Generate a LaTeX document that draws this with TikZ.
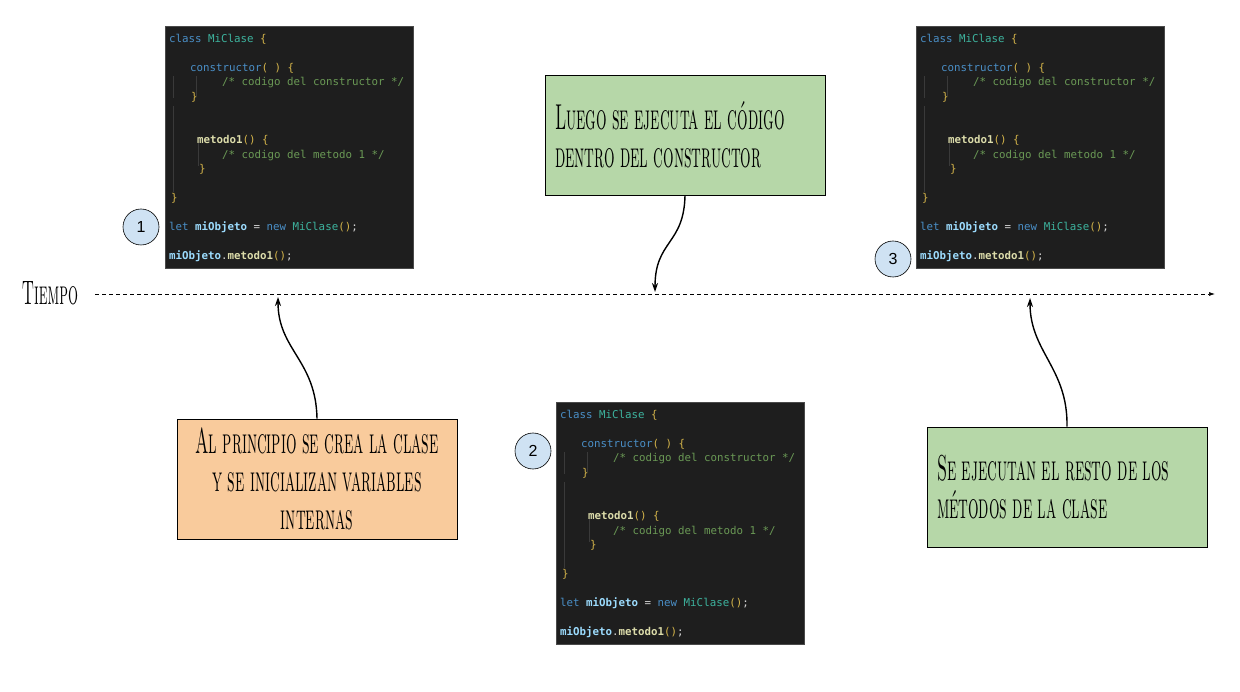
\documentclass[tikz,border=0pt]{standalone}
\usepackage{fontspec}
\newfontfamily\codefont{DejaVu Sans Mono}
\newfontfamily\numfont{Liberation Sans}
\usetikzlibrary{arrows.meta,positioning}

\definecolor{orangebox}{HTML}{F9CB9C}
\definecolor{greenbox}{HTML}{B6D7A8}
\definecolor{dotblue}{HTML}{CFE2F3}
\definecolor{codebg}{HTML}{1E1E1E}
\definecolor{codeedge}{HTML}{4A4A4A}
\definecolor{guide}{HTML}{3A3A3A}
\definecolor{kw}{HTML}{4A8FC7}
\definecolor{cls}{HTML}{3DB39E}
\definecolor{cm}{HTML}{6A9955}
\definecolor{br}{HTML}{D4B44A}
\definecolor{fn}{HTML}{DCDCAA}
\definecolor{var}{HTML}{9CDCFE}
\definecolor{plain}{HTML}{D4D4D4}

\newcommand{\hand}[1]{\scalebox{0.46}[1]{\scshape #1}}
\newcommand{\codetext}{%
\textcolor{kw}{class} \textcolor{cls}{MiClase} \textcolor{br}{\{}\\
\mbox{}\\
\hspace*{21pt}\textcolor{kw}{constructor}\textcolor{br}{( ) \{}\\
\hspace*{53pt}\textcolor{cm}{/* codigo del constructor */}\\
\hspace*{22pt}\textcolor{br}{\}}\\
\mbox{}\\
\mbox{}\\
\hspace*{28pt}\textcolor{fn}{\bfseries metodo1}\textcolor{br}{() \{}\\
\hspace*{53pt}\textcolor{cm}{/* codigo del metodo 1 */}\\
\hspace*{30pt}\textcolor{br}{\}}\\
\mbox{}\\
\hspace*{2pt}\textcolor{br}{\}}\\
\mbox{}\\
\textcolor{kw}{let} \textcolor{var}{\bfseries miObjeto} \textcolor{plain}{=} \textcolor{kw}{new} \textcolor{cls}{MiClase}\textcolor{br}{()}\textcolor{plain}{;}\\
\mbox{}\\
\textcolor{var}{\bfseries miObjeto}\textcolor{plain}{.}\textcolor{fn}{\bfseries metodo1}\textcolor{br}{()}\textcolor{plain}{;}}

\begin{document}
\begin{tikzpicture}[x=1pt,y=-1pt,
    codepanel/.style={draw=codeedge, fill=codebg, minimum width=248pt, minimum height=242pt, inner sep=0pt, anchor=north west},
    codelines/.style={inner sep=0pt, anchor=north west, align=left, font=\codefont\fontsize{10.8}{14.5}\selectfont},
    notebox/.style={draw=black, line width=0.8pt, minimum width=280pt, minimum height=120pt, inner xsep=10pt, inner ysep=4pt, font=\fontsize{36}{38}\selectfont},
    numdot/.style={circle, draw=black, line width=0.6pt, fill=dotblue, minimum size=36pt, inner sep=0pt, font=\numfont\fontsize{16}{16}\selectfont},
    pointer/.style={line width=1.4pt, -{Stealth[length=9pt,width=6pt]}}]
    \useasboundingbox (0,0) rectangle (1240,692);

    % code screenshots
    \node[codepanel] (codeA) at (165,26) {};
    \node[codepanel] (codeB) at (556,402) {};
    \node[codepanel] (codeC) at (916,26) {};
    \foreach \p in {codeA,codeB,codeC} {
        \node[codelines] at ([shift={(4,8)}]\p.north west) {\codetext};
        \draw[guide, line width=0.8pt] ([shift={(8,50)}]\p.north west) -- ([shift={(8,72)}]\p.north west);
        \draw[guide, line width=0.8pt] ([shift={(31,50)}]\p.north west) -- ([shift={(31,70)}]\p.north west);
        \draw[guide, line width=0.8pt] ([shift={(8,80)}]\p.north west) -- ([shift={(8,166)}]\p.north west);
        \draw[guide, line width=0.8pt] ([shift={(33,117)}]\p.north west) -- ([shift={(33,140)}]\p.north west);
    }

    % step numbers
    \node[numdot] (one) at (141,227) {1};
    \node[numdot] (two) at (533,451) {2};
    \node[numdot] (three) at (893,259) {3};

    % time line
    \node (tiempo) at (50,293) {\fontsize{34}{34}\selectfont\hand{Tiempo}};
    \coordinate (tstart) at (95,294);
    \coordinate (tend) at (1215,294);
    \draw[line width=0.7pt, dash pattern=on 4pt off 3pt, -{Latex[length=6pt,width=4pt]}] (tstart) -- (tend);
    \coordinate (t1) at (278,297);
    \coordinate (t2) at (655,292);
    \coordinate (t3) at (1030,298);

    % notes
    \node[notebox, fill=greenbox, text width=260pt, align=left] (luego) at (685,135)
        {\hand{Luego se ejecuta el código}\\\hand{dentro del constructor}};
    \node[notebox, fill=orangebox, text width=260pt, align=center] (inicio) at (317,479)
        {\hand{Al principio se crea la clase}\\\hand{y se inicializan variables}\\\hand{internas}};
    \node[notebox, fill=greenbox, text width=260pt, align=left] (resto) at (1067,487)
        {\hand{Se ejecutan el resto de los}\\\hand{métodos de la clase}};

    % pointers
    \draw[pointer] (inicio.north) .. controls (316,360) and (278,350) .. (t1);
    \draw[pointer] (luego.south) .. controls (684,245) and (655,240) .. (t2);
    \draw[pointer] (resto.north) .. controls (1068,368) and (1030,352) .. (t3);
\end{tikzpicture}
\end{document}
